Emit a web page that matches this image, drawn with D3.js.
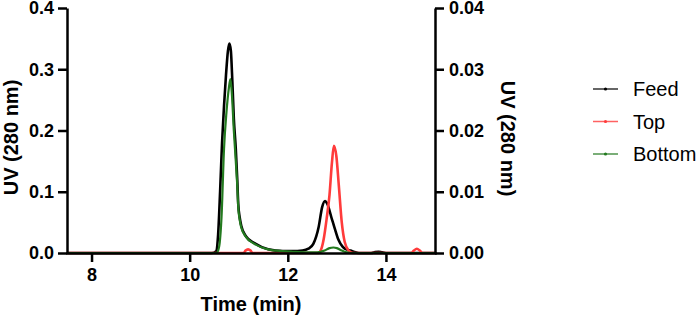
<!DOCTYPE html>
<html>
<head>
<meta charset="utf-8">
<script src="https://cdn.jsdelivr.net/npm/d3@7"></script>
<style>
  body { margin: 0; background: #fff; }
  svg { display: block; font-family: Arial, "Liberation Sans", sans-serif; }
</style>
</head>
<body>
<div id="chart"></div>
<script>
// chromatogram data
const feedTime = [7.5, 10.45, 10.54, 10.58, 10.62, 10.66, 10.7, 10.74, 10.78, 10.81, 10.84, 10.87, 10.9, 10.94, 10.97, 10.99, 11.02, 11.05, 11.15, 11.32, 11.6, 11.9, 12.1, 12.3, 12.42, 12.52, 12.63, 12.7, 12.76, 12.8, 12.9, 12.95, 13.03, 13.12, 13.22, 13.28, 13.34, 13.45, 13.7, 13.78, 13.85, 13.92, 14.0, 15.0];
const feedUV   = [0, 0, 0.003, 0.03, 0.1, 0.18, 0.24, 0.29, 0.33, 0.342, 0.33, 0.28, 0.22, 0.17, 0.12, 0.08, 0.058, 0.045, 0.027, 0.016, 0.006, 0.003, 0.003, 0.004, 0.007, 0.015, 0.043, 0.075, 0.085, 0.081, 0.055, 0.042, 0.022, 0.01, 0.005, 0.004, 0.002, 0, 0, 0.0015, 0.002, 0.001, 0, 0];

const bottomTime = [7.5, 10.55, 10.6, 10.65, 10.7, 10.75, 10.8, 10.83, 10.86, 10.9, 10.94, 10.97, 10.99, 11.02, 11.05, 11.15, 11.32, 11.6, 11.9, 12.1, 12.4, 12.6, 12.75, 12.85, 12.93, 13.0, 13.1, 13.2, 13.3, 15.0];
const bottomUV   = [0, 0, 0.01, 0.06, 0.17, 0.23, 0.27, 0.284, 0.26, 0.2, 0.15, 0.11, 0.075, 0.054, 0.042, 0.026, 0.015, 0.006, 0.003, 0.002, 0.001, 0.001, 0.004, 0.008, 0.009, 0.008, 0.004, 0.001, 0, 0];

// Top is read on the right axis
const topTime = [7.5, 11.1, 11.14, 11.19, 11.24, 11.28, 12.62, 12.67, 12.73, 12.79, 12.85, 12.9, 12.94, 12.99, 13.04, 13.1, 13.16, 13.24, 13.33, 14.52, 14.57, 14.63, 14.69, 14.74, 15.0];
const topUV   = [0, 0, 0.0004, 0.0006, 0.0004, 0, 0, 0.0004, 0.0022, 0.0055, 0.0095, 0.0148, 0.0175, 0.0158, 0.011, 0.005, 0.0018, 0.0004, 0, 0, 0.0004, 0.0007, 0.0004, 0, 0];

const xTicks = [8, 10, 12, 14];
const yLeftTicks = [0, 0.1, 0.2, 0.3, 0.4];
const yRightTicks = [0, 0.01, 0.02, 0.03, 0.04];
const seriesNames = ["Feed", "Top", "Bottom"];
const seriesColors = ["#000000", "#ff3b3b", "#237a1f"];

const W = 699, H = 319;
const margin = {top: 8, right: 264, bottom: 66, left: 67};
const w = W - margin.left - margin.right,
      h = H - margin.top - margin.bottom;

const svg = d3.select("#chart").append("svg")
  .attr("width", W).attr("height", H);
const g = svg.append("g").attr("transform", `translate(${margin.left},${margin.top})`);

const x = d3.scaleLinear().domain([7.5, 15]).range([0, w]);
const yL = d3.scaleLinear().domain([0, 0.4]).range([h, 0]);
const yR = d3.scaleLinear().domain([0, 0.04]).range([h, 0]);

//////////////// lines ////////////////
const mk = scale => d3.line()
  .x(d => x(d[0]))
  .y(d => scale(d[1]))
  .curve(d3.curveMonotoneX);

const feed = d3.zip(feedTime, feedUV);
const bottom = d3.zip(bottomTime, bottomUV);
const top_ = d3.zip(topTime, topUV);

// draw order: feed, top, bottom (green sits on top at the baseline)
g.append("path").datum(feed)
  .attr("d", mk(yL))
  .attr("fill", "none").attr("stroke", seriesColors[0]).attr("stroke-width", 2.6)
  .attr("stroke-linejoin", "round");
g.append("path").datum(top_)
  .attr("d", mk(yR))
  .attr("fill", "none").attr("stroke", seriesColors[1]).attr("stroke-width", 2.6)
  .attr("stroke-linejoin", "round");
g.append("path").datum(bottom)
  .attr("d", mk(yL))
  .attr("fill", "none").attr("stroke", seriesColors[2]).attr("stroke-width", 2.2)
  .attr("stroke-linejoin", "round");

//////////////// axes ////////////////
const styleAxis = sel => {
  sel.selectAll("path,line").attr("stroke", "#000").attr("stroke-width", 2.5);
  sel.selectAll("text").attr("fill", "#000").style("font-size", "18px").style("font-weight", "bold");
};

g.append("g").attr("transform", `translate(0,${h})`)
  .call(d3.axisBottom(x).tickValues(xTicks).tickSize(9).tickSizeOuter(0).tickPadding(6).tickFormat(d3.format("d")))
  .call(styleAxis)
  .call(a => a.select(".domain").attr("stroke-linecap", "square"));

g.append("g")
  .call(d3.axisLeft(yL).tickValues(yLeftTicks).tickSize(9).tickSizeOuter(0).tickPadding(4).tickFormat(d3.format(".1f")))
  .call(styleAxis);

g.append("g").attr("transform", `translate(${w},0)`)
  .call(d3.axisRight(yR).tickValues(yRightTicks).tickSize(9).tickSizeOuter(0).tickPadding(5).tickFormat(d3.format(".2f")))
  .call(styleAxis);

// axis titles
svg.append("text")
  .attr("x", margin.left + w / 2).attr("y", 311)
  .attr("text-anchor", "middle")
  .style("font-size", "20px").style("font-weight", "bold")
  .text("Time (min)");

svg.append("text")
  .attr("transform", `translate(18,${margin.top + h / 2 + 7}) rotate(-90)`)
  .attr("text-anchor", "middle")
  .style("font-size", "20px").style("font-weight", "bold")
  .text("UV (280 nm)");

svg.append("text")
  .attr("transform", `translate(501,${margin.top + h / 2 + 8}) rotate(90)`)
  .attr("text-anchor", "middle")
  .style("font-size", "20px").style("font-weight", "bold")
  .text("UV (280 nm)");

//////////////// legend ////////////////
const legend = svg.append("g").attr("transform", "translate(593,89)");
const item = legend.selectAll("g").data(seriesNames).enter().append("g")
  .attr("transform", (d, i) => `translate(0,${i * 32.5})`);
item.append("line")
  .attr("x1", 0).attr("x2", 25).attr("y1", 0).attr("y2", 0)
  .attr("stroke", (d, i) => seriesColors[i]).attr("stroke-width", 1.5).attr("opacity", 0.8);
item.append("circle")
  .attr("cx", 12.5).attr("cy", 0).attr("r", 1.6)
  .attr("fill", (d, i) => seriesColors[i]);
item.append("text")
  .attr("x", 40).attr("y", 7)
  .style("font-size", "20px")
  .text(d => d);
</script>
</body>
</html>
